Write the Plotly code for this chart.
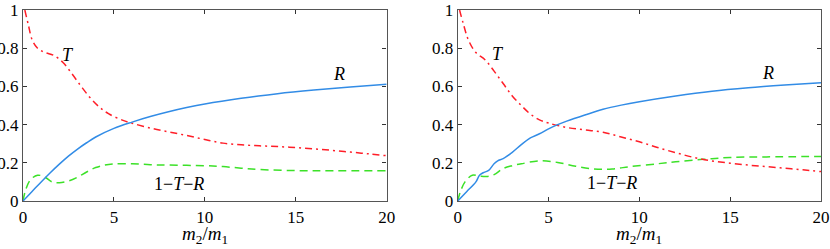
import plotly.graph_objects as go
from plotly.subplots import make_subplots

# Left panel data
x_R1 = [0, 0.5, 1, 1.5, 2, 2.5, 3, 3.5, 4, 5, 6, 7, 8, 9, 10, 12, 14, 16, 18, 20]
R1 = [0, 0.05, 0.1, 0.148, 0.193, 0.235, 0.272, 0.305, 0.335, 0.38, 0.413, 0.442, 0.467, 0.489, 0.508, 0.538, 0.562, 0.581, 0.597, 0.611]
x_T1 = [0.1, 0.3, 0.5, 0.8, 1.2, 1.7, 2.2, 2.7, 3.2, 3.7, 4.2, 4.7, 5.5, 6, 7, 8, 9, 10, 11, 12, 13, 14, 15, 16, 17, 18, 19, 20]
T1 = [1.0, 0.92, 0.845, 0.8, 0.778, 0.762, 0.725, 0.665, 0.6, 0.54, 0.492, 0.457, 0.422, 0.407, 0.382, 0.362, 0.343, 0.322, 0.303, 0.294, 0.289, 0.285, 0.28, 0.273, 0.265, 0.256, 0.247, 0.237]
x_G1 = [0, 0.15, 0.4, 0.8, 1.2, 1.6, 2, 2.5, 3, 3.5, 4, 4.5, 5, 6, 7, 8, 10, 11, 12, 13, 15, 17, 20]
G1 = [0, 0.06, 0.11, 0.135, 0.125, 0.1, 0.096, 0.105, 0.125, 0.152, 0.175, 0.188, 0.194, 0.195, 0.19, 0.188, 0.185, 0.18, 0.172, 0.165, 0.159, 0.158, 0.159]

# Right panel data
x_R2 = [0, 0.5, 1, 1.2, 1.4, 1.7, 2, 2.2, 2.5, 3, 3.5, 4, 4.5, 5, 5.5, 6, 7, 8, 9, 10, 12, 14, 16, 18, 20]
R2 = [0, 0.05, 0.1, 0.135, 0.148, 0.16, 0.195, 0.21, 0.222, 0.255, 0.295, 0.33, 0.352, 0.378, 0.4, 0.418, 0.45, 0.48, 0.502, 0.52, 0.55, 0.575, 0.593, 0.607, 0.619]
x_T2 = [0.1, 0.3, 0.6, 1, 1.5, 2, 2.5, 3, 3.5, 4, 4.5, 5, 6, 7, 8, 9, 10, 11, 12, 13, 14, 15, 16, 17, 18, 19, 20]
T2 = [1.0, 0.93, 0.84, 0.777, 0.74, 0.68, 0.615, 0.55, 0.5, 0.455, 0.425, 0.408, 0.385, 0.372, 0.36, 0.335, 0.31, 0.28, 0.253, 0.228, 0.21, 0.198, 0.188, 0.18, 0.172, 0.163, 0.154]
x_G2 = [0, 0.15, 0.4, 0.8, 1.2, 1.6, 2, 2.5, 3, 3.5, 4.5, 5.5, 6.5, 7.5, 8.5, 9.5, 11, 12, 13.5, 15, 17, 20]
G2 = [0, 0.05, 0.1, 0.135, 0.13, 0.128, 0.138, 0.17, 0.185, 0.195, 0.21, 0.202, 0.182, 0.168, 0.168, 0.18, 0.195, 0.205, 0.218, 0.228, 0.231, 0.233]

x_ticks = [0, 5, 10, 15, 20]
y_ticks = [0, 0.2, 0.4, 0.6, 0.8, 1]
y_tick_text = ["0", "0.2", "0.4", "0.6", "0.8", "1"]

labels1 = [("<i>T</i>", 2.48, 0.764), ("<i>R</i>", 17.4, 0.665), ("1\u2212<i>T</i>\u2212<i>R</i>", 8.6, 0.09)]
labels2 = [("<i>T</i>", 2.24, 0.768), ("<i>R</i>", 17.1, 0.668), ("1\u2212<i>T</i>\u2212<i>R</i>", 8.5, 0.093)]
x_title = "<i>m</i><sub>2</sub>/<i>m</i><sub>1</sub>"

blue = "rgb(50,140,230)"
red = "rgb(255,30,40)"
green = "rgb(60,225,40)"
serif = "Liberation Serif, Times New Roman, DejaVu Serif, serif"

fig = make_subplots(rows=1, cols=2, horizontal_spacing=0.089)

panels = [
    (1, x_R1, R1, x_T1, T1, x_G1, G1, labels1),
    (2, x_R2, R2, x_T2, T2, x_G2, G2, labels2),
]
for col, xr, r, xt, t, xg, g, labs in panels:
    fig.add_trace(go.Scatter(x=xg, y=g, mode="lines", line=dict(color=green, width=1.5, dash="8px,5px", shape="spline", smoothing=1.0), showlegend=False), row=1, col=col)
    fig.add_trace(go.Scatter(x=xt, y=t, mode="lines", line=dict(color=red, width=1.5, dash="7px,4px,2px,4px", shape="spline", smoothing=1.0), showlegend=False), row=1, col=col)
    fig.add_trace(go.Scatter(x=xr, y=r, mode="lines", line=dict(color=blue, width=1.5, shape="spline", smoothing=1.0), showlegend=False), row=1, col=col)
    for txt, lx, ly in labs:
        fig.add_annotation(x=lx, y=ly, text=txt, showarrow=False, font=dict(size=18, family=serif, color="black"), row=1, col=col)
    xref = "x domain" if col == 1 else "x2 domain"
    yref = "y domain" if col == 1 else "y2 domain"
    fig.add_annotation(x=0.5, y=-0.178, xref=xref, yref=yref, text=x_title, showarrow=False,
                       xanchor="center", yanchor="middle", font=dict(size=19, family=serif, color="black"))

font = dict(family=serif, size=17, color="black")
for col in (1, 2):
    fig.update_xaxes(range=[0, 20], tickvals=x_ticks, ticks="inside", ticklen=4, tickcolor="#333",
                     showline=True, linecolor="#555", linewidth=1.3, mirror="ticks", showgrid=False, zeroline=False,
                     tickfont=font, automargin=False, row=1, col=col)
    fig.update_yaxes(range=[0, 1], tickvals=y_ticks, ticktext=y_tick_text, ticks="inside", ticklen=4, tickcolor="#333",
                     showline=True, linecolor="#555", linewidth=1.3, mirror="ticks", showgrid=False, zeroline=False,
                     tickfont=font, automargin=False, row=1, col=col)

fig.update_xaxes(domain=[0, 0.4557], row=1, col=1)
fig.update_xaxes(domain=[0.5448, 1], row=1, col=2)

fig.update_layout(width=830, height=249, margin=dict(l=23, r=9, t=10, b=48),
                  plot_bgcolor="white", paper_bgcolor="white", font=dict(family=serif))

fig.write_html("out.html", config={"displayModeBar": False},
               post_script="document.body.style.margin='0';document.body.style.overflow='hidden';")
